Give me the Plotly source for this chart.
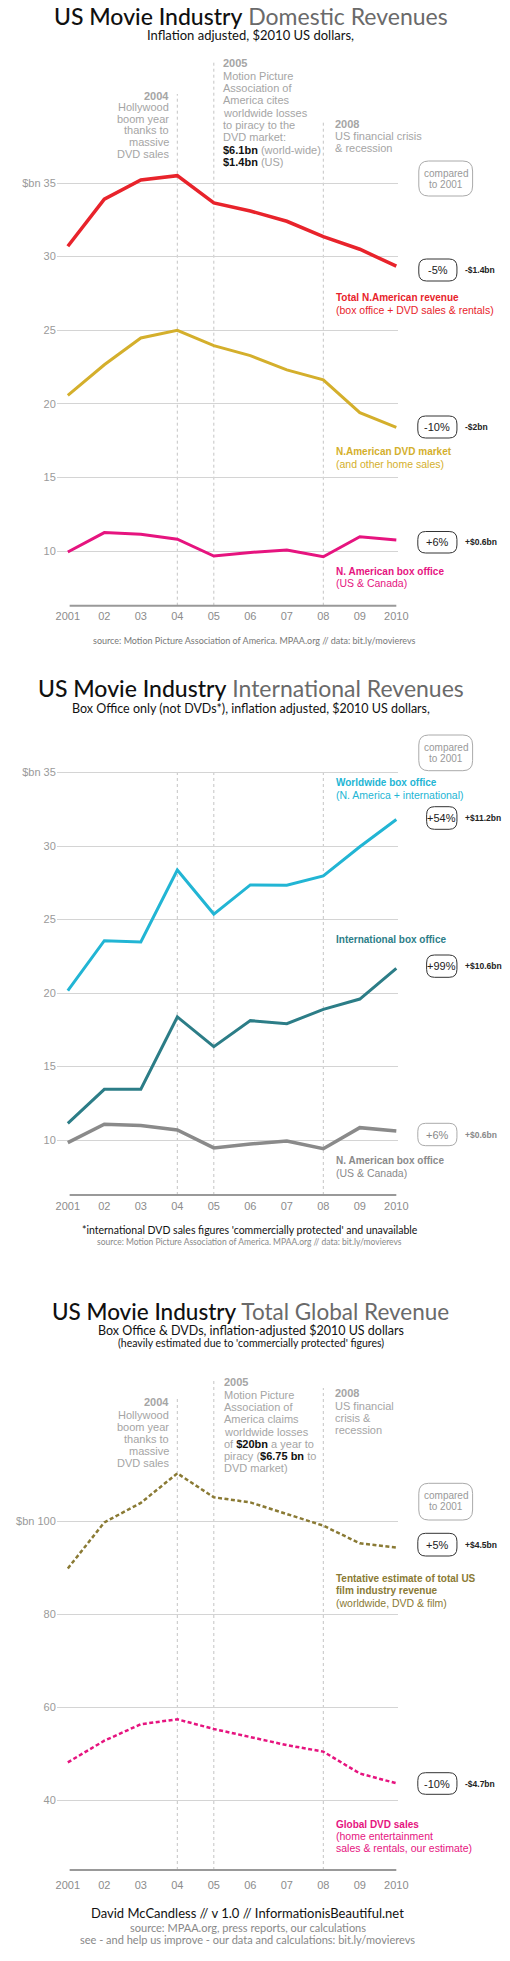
import plotly.graph_objects as go

# ---------------- data ----------------
years = [2001, 2002, 2003, 2004, 2005, 2006, 2007, 2008, 2009, 2010]
year_labels = ["2001", "02", "03", "04", "05", "06", "07", "08", "09", "2010"]

# Panel 1: domestic revenues ($bn, 2010 dollars)
total_na = [30.7, 33.9, 35.2, 35.5, 33.65, 33.1, 32.4, 31.35, 30.5, 29.35]
dvd_na = [20.57, 22.65, 24.47, 24.99, 23.95, 23.27, 22.3, 21.63, 19.4, 18.4]
box_na = [9.93, 11.25, 11.13, 10.8, 9.66, 9.9, 10.07, 9.61, 10.97, 10.75]

# Panel 2: international revenues
worldwide_box = [20.16, 23.56, 23.47, 28.37, 25.37, 27.35, 27.33, 27.96, 29.95, 31.8]
intl_box = [11.13, 13.45, 13.45, 18.37, 16.35, 18.12, 17.91, 18.89, 19.59, 21.68]
na_box2 = [9.82, 11.07, 10.98, 10.68, 9.46, 9.73, 9.93, 9.41, 10.84, 10.61]

# Panel 3: total global revenue
global_total = [89.8, 99.7, 103.9, 110.25, 105.1, 104.0, 101.5, 99.0, 95.2, 94.3]
global_dvd = [48.1, 52.75, 56.3, 57.35, 55.27, 53.6, 51.8, 50.4, 45.7, 43.6]

p1_ticks = [10, 15, 20, 25, 30, 35]
p1_ticktext = ["10", "15", "20", "25", "30", "$bn 35"]
p3_ticks = [40, 60, 80, 100]
p3_ticktext = ["40", "60", "80", "$bn 100"]

# ---------------- layout helpers ----------------
W, H = 510, 1961
SANS = "Liberation Sans, Arial, sans-serif"
ROUND = "Lato, Open Sans, sans-serif"

RED = "#e8232b"
YEL = "#d4af2c"
PINK = "#e6147f"
CYAN = "#22b5d4"
TEAL = "#2c7d87"
GREYL = "#8a8a8a"
OLIVE = "#8a7a34"
EVT = "#a5a5a5"


def X(px):
    return px / W


def Y(py):
    return 1 - py / H


# panel geometry: (value ref, pixel ref, pixels per unit, bottom px, top px)
panels = [
    (10, 551, 14.72, 608, 54),
    (10, 1140, 14.7, 1198, 760),
    (40, 1800, 4.65, 1877, 1372),
]


def v_of(pi, py):
    vr, pr, ppu, _, _ = panels[pi]
    return vr + (pr - py) / ppu


fig = go.Figure()
annotations = []
shapes = []


def txt(x, y, text, size=11, color="#111", anchor="left", family=SANS):
    annotations.append(dict(x=X(x), y=Y(y), xref="paper", yref="paper", text=text,
                            showarrow=False, xanchor=anchor, yanchor="middle",
                            font=dict(size=size, color=color, family=family)))


def lines(x, y0, step, items, size=11, color=EVT, anchor="left"):
    for i, t in enumerate(items):
        txt(x, y0 + i * step, t, size=size, color=color, anchor=anchor)


def rbox(x0, y0, x1, y1, color="#333", r=8, width=1):
    rx, ry = r / W, r / H
    a, b, c, d = X(x0), Y(y0), X(x1), Y(y1)
    path = (f"M {a+rx},{b} L {c-rx},{b} Q {c},{b} {c},{b-ry} L {c},{d+ry} Q {c},{d} {c-rx},{d} "
            f"L {a+rx},{d} Q {a},{d} {a},{d+ry} L {a},{b-ry} Q {a},{b} {a+rx},{b} Z")
    shapes.append(dict(type="path", path=path, xref="paper", yref="paper",
                       line=dict(color=color, width=width), fillcolor="rgba(0,0,0,0)"))


def pct_box(x0, y0, x1, y1, pct, delta, color="#222", bcolor="#333"):
    rbox(x0, y0, x1, y1, color=bcolor)
    txt((x0 + x1) / 2, (y0 + y1) / 2, pct, size=11, color=color, anchor="center")
    txt(472, (y0 + y1) / 2, "<b>" + delta + "</b>", size=8.5, color=color)


def compared(y0, y1):
    rbox(427, y0, 482, y1, color="#aaa", r=10)
    txt(454.5, y0 + 12, "compared", size=10, color="#999", anchor="center")
    txt(454.5, y0 + 23.5, "to 2001", size=10, color="#999", anchor="center")


def vdots(ax_i, xval, top_py, base_v):
    xr = "x" if ax_i == 0 else f"x{ax_i+1}"
    yr = "y" if ax_i == 0 else f"y{ax_i+1}"
    shapes.append(dict(type="line", xref=xr, yref=yr, x0=xval, x1=xval,
                       y0=base_v, y1=v_of(ax_i, top_py),
                       line=dict(color="#c4c4c4", width=1, dash="dot"), layer="below"))


def baseline(ax_i, base_v):
    xr = "x" if ax_i == 0 else f"x{ax_i+1}"
    yr = "y" if ax_i == 0 else f"y{ax_i+1}"
    shapes.append(dict(type="line", xref=xr, yref=yr, x0=2001.05, x1=2010,
                       y0=base_v, y1=base_v, line=dict(color="#999", width=2)))


def title(y, dark, light, size=23):
    txt(255, y, f"<span style='color:#101010;font-weight:500'>{dark}</span> "
                f"<span style='color:#6a6a6a;font-weight:400'>{light}</span>",
        size=size, anchor="center", family=ROUND)


# ---------------- traces ----------------
def add_line(ax_i, yvals, color, width=3, dash="solid"):
    xr = "x" if ax_i == 0 else f"x{ax_i+1}"
    yr = "y" if ax_i == 0 else f"y{ax_i+1}"
    fig.add_trace(go.Scatter(x=years, y=yvals, mode="lines", xaxis=xr, yaxis=yr,
                             line=dict(color=color, width=width, dash=dash, shape="linear"),
                             hoverinfo="skip", showlegend=False))


add_line(0, total_na, RED, 3.5)
add_line(0, dvd_na, YEL, 3)
add_line(0, box_na, PINK, 3)
add_line(1, worldwide_box, CYAN, 3)
add_line(1, intl_box, TEAL, 3)
add_line(1, na_box2, GREYL, 3.5)
add_line(2, global_total, OLIVE, 2.5, dash="4px,2.5px")
add_line(2, global_dvd, PINK, 2.5, dash="4px,2.5px")

# ---------------- axes ----------------
layout_axes = {}
xdom = [57.1 / W, 405.9 / W]
for i, (vr, pr, ppu, bpx, tpx) in enumerate(panels):
    sfx = "" if i == 0 else str(i + 1)
    rng = [vr - (bpx - pr) / ppu, vr + (pr - tpx) / ppu]
    if i < 2:
        tv, tt = p1_ticks, p1_ticktext
    else:
        tv, tt = p3_ticks, p3_ticktext
    layout_axes["xaxis" + sfx] = dict(domain=xdom, range=[2000.7, 2010.05], anchor="y" + sfx,
                                      tickvals=years, ticktext=year_labels, showgrid=False,
                                      zeroline=False, showline=False, ticks="",
                                      tickfont=dict(size=11, color="#8c8c8c", family=SANS),
                                      fixedrange=True)
    layout_axes["yaxis" + sfx] = dict(domain=[1 - bpx / H, 1 - tpx / H], range=rng,
                                      anchor="x" + sfx, tickvals=tv, ticktext=tt,
                                      showgrid=True, gridcolor="#d4d4d4", gridwidth=1,
                                      zeroline=False, showline=False, ticks="",
                                      tickfont=dict(size=11, color="#9a9a9a", family=SANS),
                                      fixedrange=True)

# ---------------- panel 1 decorations ----------------
b1 = v_of(0, 605.7)
baseline(0, b1)
vdots(0, 2004, 94, b1)
vdots(0, 2005, 62, b1)
vdots(0, 2008, 120, b1)

title(16, "US Movie Industry", "Domestic Revenues")
txt(255, 35, "Inflation adjusted, $2010 US dollars,", size=13, color="#111", anchor="center", family=ROUND)

lines(174, 96, 11.5, ["<b>2004</b>", "Hollywood", "boom year", "thanks to", "massive", "DVD sales"],
      anchor="right")
lines(225, 63.5, 12.3, ["<b>2005</b>", "Motion Picture", "Association of", "America cites",
                        "worldwide losses", "to piracy to the", "DVD market:",
                        "<span style='color:#111'><b>$6.1bn</b></span> (world-wide)",
                        "<span style='color:#111'><b>$1.4bn</b></span> (US)"])
lines(339, 124, 12.2, ["<b>2008</b>", "US financial crisis", "& recession"])

compared(161, 196)
pct_box(427, 259, 466, 281, "-5%", "-$1.4bn")
txt(340, 297.7, "<b>Total N.American revenue</b>", size=10, color=RED)
txt(340, 310, "(box office + DVD sales & rentals)", size=10.5, color=RED)
pct_box(426, 416, 466, 438, "-10%", "-$2bn")
txt(340, 451.7, "<b>N.American DVD market</b>", size=10, color=YEL)
txt(340, 464, "(and other home sales)", size=10.5, color=YEL)
pct_box(426, 531.5, 466, 553, "+6%", "+$0.6bn")
txt(340, 571, "<b>N. American box office</b>", size=10, color=PINK)
txt(340, 583, "(US & Canada)", size=10.5, color=PINK)
txt(259, 640, "source: Motion Picture Association of America. MPAA.org // data: bit.ly/movierevs",
    size=9, color="#777", anchor="center", family=ROUND)

# ---------------- panel 2 decorations ----------------
b2 = v_of(1, 1195)
baseline(1, b2)
for yr in (2004, 2005, 2008):
    vdots(1, yr, 772, b2)

title(688, "US Movie Industry", "International Revenues")
txt(255, 708, "Box Office only (not DVDs*), inflation adjusted, $2010 US dollars,",
    size=12.5, color="#111", anchor="center", family=ROUND)
compared(735, 770.7)
txt(340, 782.7, "<b>Worldwide box office</b>", size=10, color=CYAN)
txt(340, 795.3, "(N. America + international)", size=10.5, color=CYAN)
pct_box(435, 806.7, 466, 829.3, "+54%", "+$11.2bn")
txt(340, 939.3, "<b>International box office</b>", size=10, color=TEAL)
pct_box(435, 955, 466, 977.3, "+99%", "+$10.6bn")
pct_box(426, 1123.3, 466, 1145.7, "+6%", "+$0.6bn", color="#888", bcolor="#aaa")
txt(340, 1160, "<b>N. American box office</b>", size=10, color=GREYL)
txt(340, 1172.7, "(US & Canada)", size=10.5, color=GREYL)
txt(254, 1230, "*international DVD sales figures 'commercially protected' and unavailable",
    size=10.5, color="#111", anchor="center", family=ROUND)
txt(254, 1241.5, "source: Motion Picture Association of America. MPAA.org // data: bit.ly/movierevs",
    size=8.5, color="#888", anchor="center", family=ROUND)

# ---------------- panel 3 decorations ----------------
b3 = v_of(2, 1870)
baseline(2, b3)
vdots(2, 2004, 1396.7, b3)
vdots(2, 2005, 1380, b3)
vdots(2, 2008, 1388, b3)

title(1311.7, "US Movie Industry", "Total Global Revenue", 22.5)
txt(255, 1330.7, "Box Office & DVDs, inflation-adjusted $2010 US dollars",
    size=12.5, color="#111", anchor="center", family=ROUND)
txt(255, 1343.3, "(heavily estimated due to 'commercially protected' figures)",
    size=10.5, color="#111", anchor="center", family=ROUND)

lines(174, 1402.3, 12.2, ["<b>2004</b>", "Hollywood", "boom year", "thanks to", "massive", "DVD sales"],
      anchor="right")
lines(226, 1382.3, 12.3, ["<b>2005</b>", "Motion Picture", "Association of", "America claims",
                          "worldwide losses",
                          "of <span style='color:#111'><b>$20bn</b></span> a year to",
                          "piracy (<span style='color:#111'><b>$6.75 bn</b></span> to",
                          "DVD market)"])
lines(339, 1393.3, 12.2, ["<b>2008</b>", "US financial", "crisis &", "recession"])

compared(1483.3, 1520)
pct_box(426, 1533.3, 466, 1556, "+5%", "+$4.5bn")
txt(340, 1578.3, "<b>Tentative estimate of total US</b>", size=10, color=OLIVE)
txt(340, 1590.3, "<b>film industry revenue</b>", size=10, color=OLIVE)
txt(340, 1602.7, "(worldwide, DVD & film)", size=10.5, color=OLIVE)
pct_box(426, 1772.7, 466, 1794.3, "-10%", "-$4.7bn")
txt(340, 1824.3, "<b>Global DVD sales</b>", size=10, color=PINK)
txt(340, 1836.3, "(home entertainment", size=10.5, color=PINK)
txt(340, 1848.3, "sales & rentals, our estimate)", size=10.5, color=PINK)

txt(252, 1912.7, "David McCandless // v 1.0 // InformationisBeautiful.net",
    size=13, color="#111", anchor="center", family=ROUND)
txt(252, 1927.3, "source: MPAA.org, press reports, our calculations",
    size=11, color="#888", anchor="center", family=ROUND)
txt(252, 1939.3, "see - and help us improve - our data and calculations: bit.ly/movierevs",
    size=11, color="#888", anchor="center", family=ROUND)

fig.update_layout(width=W, height=H, autosize=False, margin=dict(l=0, r=0, t=0, b=0),
                  paper_bgcolor="white", plot_bgcolor="white", showlegend=False,
                  annotations=annotations, shapes=shapes, **layout_axes)

fig.write_html("out.html", config={"displayModeBar": False})
